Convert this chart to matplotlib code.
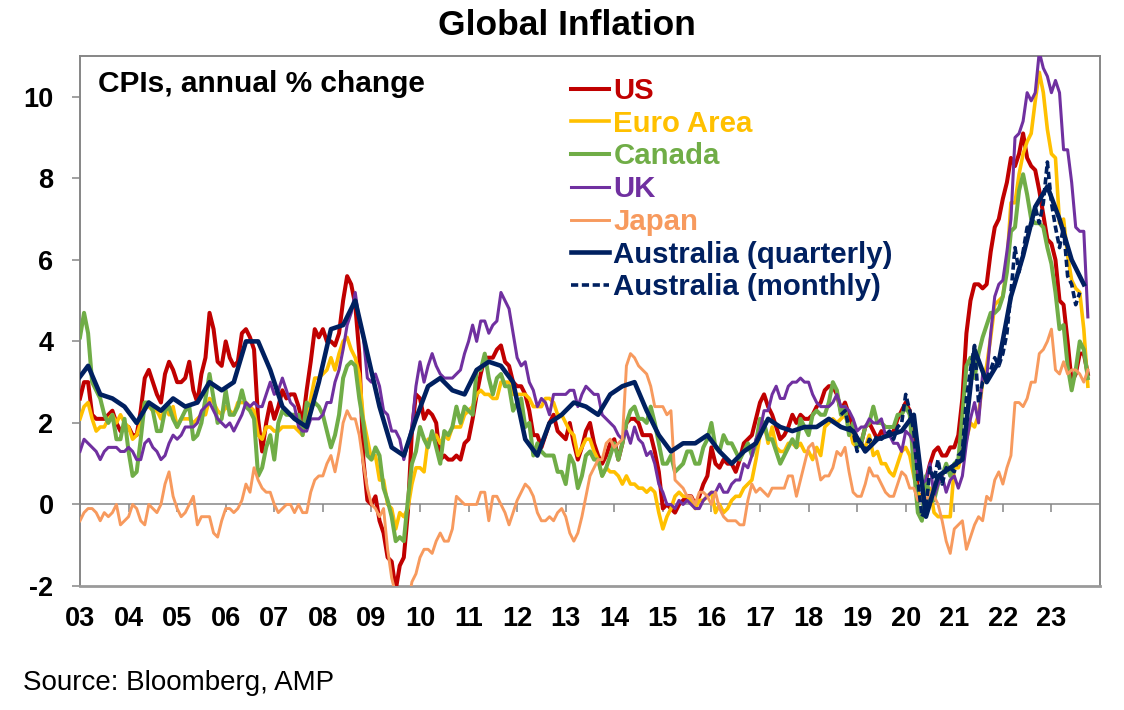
import matplotlib
matplotlib.use("Agg")
import matplotlib.pyplot as plt
import numpy as np

plt.rcParams['font.family'] = ['Liberation Sans', 'DejaVu Sans']
plt.rcParams['axes.unicode_minus'] = False

###############################################################################
#                                   Data                                      #
###############################################################################
# monthly series, annual % change, Jan 2003 .. Oct 2023
us = [
    2.6, 3.0, 3.0, 2.2, 2.1, 2.1, 2.1, 2.2, 2.3, 2.0, 1.8, 1.9,
    1.9, 1.7, 1.7, 2.3, 3.1, 3.3, 3.0, 2.7, 2.5, 3.2, 3.5, 3.3,
    3.0, 3.0, 3.1, 3.5, 2.8, 2.5, 3.2, 3.6, 4.7, 4.3, 3.5, 3.4,
    4.0, 3.6, 3.4, 3.5, 4.2, 4.3, 4.1, 3.8, 2.1, 1.3, 2.0, 2.5,
    2.1, 2.4, 2.8, 2.6, 2.7, 2.7, 2.4, 2.0, 2.8, 3.5, 4.3, 4.1,
    4.3, 4.0, 4.0, 3.9, 4.2, 5.0, 5.6, 5.4, 4.9, 3.7, 1.1, 0.1,
    0.0, 0.2, -0.4, -0.7, -1.3, -1.4, -2.1, -1.5, -1.3, -0.2, 1.8, 2.7,
    2.6, 2.1, 2.3, 2.2, 2.0, 1.1, 1.2, 1.1, 1.1, 1.2, 1.1, 1.5,
    1.6, 2.1, 2.7, 3.2, 3.6, 3.6, 3.6, 3.8, 3.9, 3.5, 3.4, 3.0,
    2.9, 2.9, 2.7, 2.3, 1.7, 1.7, 1.4, 1.7, 2.0, 2.2, 1.8, 1.7,
    1.6, 2.0, 1.5, 1.1, 1.4, 1.8, 2.0, 1.5, 1.2, 1.0, 1.2, 1.5,
    1.6, 1.1, 1.5, 2.0, 2.1, 2.1, 2.0, 1.7, 1.7, 1.7, 1.3, 0.8,
    -0.1, 0.0, -0.1, -0.2, 0.0, 0.1, 0.2, 0.2, 0.0, 0.2, 0.5, 0.7,
    1.4, 1.0, 0.9, 1.1, 1.0, 1.0, 0.8, 1.1, 1.5, 1.6, 1.7, 2.1,
    2.5, 2.7, 2.4, 2.2, 1.9, 1.6, 1.7, 1.9, 2.2, 2.0, 2.2, 2.1,
    2.1, 2.2, 2.4, 2.5, 2.8, 2.9, 2.9, 2.7, 2.3, 2.5, 2.2, 1.9,
    1.6, 1.5, 1.9, 2.0, 1.8, 1.6, 1.8, 1.7, 1.7, 1.8, 2.1, 2.3,
    2.5, 2.3, 1.5, 0.3, 0.1, 0.6, 1.0, 1.3, 1.4, 1.2, 1.2, 1.4,
    1.4, 1.7, 2.6, 4.2, 5.0, 5.4, 5.4, 5.3, 5.4, 6.2, 6.8, 7.0,
    7.5, 7.9, 8.5, 8.3, 8.6, 9.1, 8.5, 8.3, 8.2, 7.7, 7.1, 6.5,
    6.4, 6.0, 5.0, 4.9, 4.0, 3.0, 3.2, 3.7, 3.7, 3.2,
]

euro = [
    2.1, 2.4, 2.5, 2.1, 1.8, 1.9, 1.9, 2.1, 2.2, 2.0, 2.2, 2.0,
    1.9, 1.6, 1.7, 2.0, 2.5, 2.4, 2.3, 2.3, 2.1, 2.4, 2.2, 2.4,
    1.9, 2.1, 2.1, 2.1, 2.0, 2.1, 2.2, 2.2, 2.6, 2.5, 2.3, 2.2,
    2.4, 2.3, 2.2, 2.5, 2.5, 2.5, 2.4, 2.3, 1.7, 1.6, 1.9, 1.9,
    1.8, 1.8, 1.9, 1.9, 1.9, 1.9, 1.8, 1.7, 2.1, 2.6, 3.1, 3.1,
    3.2, 3.3, 3.6, 3.3, 3.7, 4.0, 4.1, 3.8, 3.6, 3.2, 2.1, 1.6,
    1.1, 1.2, 0.6, 0.6, 0.0, -0.1, -0.6, -0.2, -0.3, -0.1, 0.5, 0.9,
    0.9, 0.8, 1.6, 1.6, 1.7, 1.5, 1.7, 1.6, 1.9, 1.9, 1.9, 2.2,
    2.3, 2.4, 2.7, 2.8, 2.7, 2.7, 2.6, 2.6, 3.0, 3.0, 3.0, 2.7,
    2.7, 2.7, 2.7, 2.6, 2.4, 2.4, 2.4, 2.6, 2.6, 2.5, 2.2, 2.2,
    2.0, 1.8, 1.7, 1.2, 1.4, 1.6, 1.6, 1.3, 1.1, 0.7, 0.9, 0.8,
    0.8, 0.7, 0.5, 0.7, 0.5, 0.5, 0.4, 0.4, 0.3, 0.4, 0.3, -0.2,
    -0.6, -0.3, -0.1, 0.2, 0.3, 0.2, 0.2, 0.1, -0.1, 0.1, 0.1, 0.2,
    0.3, -0.2, 0.0, -0.2, -0.1, 0.1, 0.2, 0.2, 0.4, 0.5, 0.6, 1.1,
    1.7, 2.0, 1.5, 1.9, 1.4, 1.3, 1.3, 1.5, 1.5, 1.4, 1.5, 1.3,
    1.3, 1.1, 1.4, 1.2, 1.9, 2.0, 2.1, 2.0, 2.1, 2.2, 1.9, 1.5,
    1.4, 1.5, 1.4, 1.7, 1.2, 1.3, 1.0, 1.0, 0.8, 0.7, 1.0, 1.3,
    1.4, 1.2, 0.7, 0.3, 0.1, 0.3, 0.4, -0.2, -0.3, -0.3, -0.3, -0.3,
    0.9, 0.9, 1.3, 1.6, 2.0, 1.9, 2.2, 3.0, 3.4, 4.1, 4.9, 5.0,
    5.1, 5.9, 7.4, 7.4, 8.1, 8.6, 8.9, 9.1, 9.9, 10.6, 10.1, 9.2,
    8.6, 8.5, 6.9, 7.0, 6.1, 5.5, 5.3, 5.2, 4.3, 2.9,
]

canada = [
    4.1, 4.7, 4.2, 3.0, 2.8, 2.6, 2.2, 2.0, 2.2, 1.6, 1.6, 2.1,
    1.3, 0.7, 0.8, 1.6, 2.5, 2.5, 2.3, 1.8, 1.8, 2.3, 2.4, 2.1,
    1.9, 2.1, 2.3, 2.4, 1.6, 1.7, 2.0, 2.6, 3.2, 2.6, 2.0, 2.1,
    2.8, 2.2, 2.2, 2.4, 2.8, 2.4, 2.3, 2.1, 0.7, 0.9, 1.4, 1.7,
    1.1, 2.0, 2.3, 2.2, 2.2, 2.2, 2.2, 1.7, 2.5, 2.4, 2.5, 2.4,
    2.2, 1.8, 1.4, 1.7, 2.2, 3.1, 3.4, 3.5, 3.4, 2.6, 2.0, 1.2,
    1.1, 1.4, 1.2, 0.4, 0.1, -0.3, -0.9, -0.8, -0.9, 0.1, 1.0, 1.3,
    1.9, 1.6, 1.4, 1.8, 1.4, 1.0, 1.8, 1.7, 1.9, 2.4, 2.0, 2.4,
    2.3, 2.2, 3.3, 3.3, 3.7, 3.1, 2.7, 3.1, 3.2, 2.9, 2.9, 2.3,
    2.5, 2.6, 1.9, 2.0, 1.2, 1.5, 1.3, 1.2, 1.2, 1.2, 0.8, 0.8,
    0.5, 1.2, 1.0, 0.4, 0.7, 1.2, 1.3, 1.1, 1.1, 0.7, 0.9, 1.2,
    1.5, 1.1, 1.5, 2.0, 2.3, 2.4, 2.1, 2.1, 2.0, 2.4, 2.0, 1.5,
    1.0, 1.0, 1.2, 0.8, 0.9, 1.0, 1.3, 1.3, 1.0, 1.0, 1.4, 1.6,
    2.0, 1.4, 1.3, 1.7, 1.5, 1.5, 1.3, 1.1, 1.3, 1.5, 1.2, 1.5,
    2.1, 2.0, 1.6, 1.6, 1.3, 1.0, 1.2, 1.4, 1.6, 1.4, 2.1, 1.9,
    1.7, 2.2, 2.3, 2.2, 2.2, 2.5, 3.0, 2.8, 2.2, 2.4, 1.7, 2.0,
    1.4, 1.5, 1.9, 2.0, 2.4, 2.0, 2.0, 1.9, 1.9, 1.9, 2.2, 2.2,
    2.4, 2.2, 0.9, -0.2, -0.4, 0.7, 0.1, 0.1, 0.5, 0.7, 1.0, 0.7,
    1.0, 1.1, 2.2, 3.4, 3.6, 3.1, 3.7, 4.1, 4.4, 4.7, 4.7, 4.8,
    5.1, 5.7, 6.7, 6.8, 7.7, 8.1, 7.6, 7.0, 6.9, 6.9, 6.8, 6.3,
    5.9, 5.2, 4.3, 4.4, 3.4, 2.8, 3.3, 4.0, 3.8, 3.1,
]

uk = [
    1.3, 1.6, 1.5, 1.4, 1.3, 1.1, 1.3, 1.4, 1.4, 1.4, 1.3, 1.3,
    1.4, 1.3, 1.1, 1.1, 1.5, 1.6, 1.4, 1.3, 1.1, 1.2, 1.5, 1.7,
    1.6, 1.7, 1.9, 1.9, 1.9, 2.0, 2.3, 2.4, 2.5, 2.3, 2.1, 2.0,
    1.9, 2.0, 1.8, 2.0, 2.2, 2.5, 2.4, 2.5, 2.4, 2.4, 2.7, 3.0,
    2.7, 2.8, 3.1, 2.8, 2.5, 2.4, 1.9, 1.8, 1.8, 2.1, 2.1, 2.1,
    2.2, 2.5, 2.5, 3.0, 3.3, 3.8, 4.4, 4.7, 5.2, 4.5, 4.1, 3.1,
    3.0, 3.2, 2.9, 2.3, 2.2, 1.8, 1.8, 1.6, 1.1, 1.5, 1.9, 2.9,
    3.5, 3.0, 3.4, 3.7, 3.4, 3.2, 3.1, 3.1, 3.1, 3.2, 3.3, 3.7,
    4.0, 4.4, 4.0, 4.5, 4.5, 4.2, 4.4, 4.5, 5.2, 5.0, 4.8, 4.2,
    3.6, 3.4, 3.5, 3.0, 2.8, 2.4, 2.6, 2.5, 2.2, 2.7, 2.7, 2.7,
    2.7, 2.8, 2.8, 2.4, 2.7, 2.9, 2.8, 2.7, 2.7, 2.2, 2.1, 2.0,
    1.9, 1.7, 1.6, 1.8, 1.5, 1.9, 1.6, 1.5, 1.2, 1.3, 1.0, 0.5,
    0.3, 0.0, 0.0, -0.1, 0.1, 0.0, 0.1, 0.0, -0.1, -0.1, 0.1, 0.2,
    0.3, 0.3, 0.5, 0.3, 0.3, 0.5, 0.6, 0.6, 1.0, 0.9, 1.2, 1.6,
    1.8, 2.3, 2.3, 2.7, 2.9, 2.6, 2.6, 2.9, 3.0, 3.0, 3.1, 3.0,
    3.0, 2.7, 2.5, 2.4, 2.4, 2.4, 2.5, 2.7, 2.4, 2.4, 2.3, 2.1,
    1.8, 1.9, 1.9, 2.1, 2.0, 2.0, 2.1, 1.7, 1.7, 1.5, 1.5, 1.3,
    1.8, 1.7, 1.5, 0.8, 0.5, 0.6, 1.0, 0.2, 0.5, 0.7, 0.3, 0.6,
    0.7, 0.4, 0.7, 1.5, 2.1, 2.5, 2.0, 3.2, 3.1, 4.2, 5.1, 5.4,
    5.5, 6.2, 7.0, 9.0, 9.1, 9.4, 10.1, 9.9, 10.1, 11.1, 10.7, 10.5,
    10.1, 10.4, 10.1, 8.7, 8.7, 7.9, 6.8, 6.7, 6.7, 4.6,
]

japan = [
    -0.4, -0.2, -0.1, -0.1, -0.2, -0.4, -0.2, -0.3, -0.2, 0.0, -0.5, -0.4,
    -0.3, 0.0, -0.1, -0.4, -0.5, 0.0, -0.1, -0.2, 0.0, 0.5, 0.8, 0.2,
    -0.1, -0.3, -0.2, 0.0, 0.2, -0.5, -0.3, -0.3, -0.3, -0.7, -0.8, -0.4,
    -0.1, -0.1, -0.2, -0.1, 0.1, 0.5, 0.3, 0.9, 0.6, 0.4, 0.3, 0.3,
    0.0, -0.2, -0.1, 0.0, 0.0, -0.2, 0.0, -0.2, -0.2, 0.3, 0.6, 0.7,
    0.7, 1.0, 1.2, 0.8, 1.3, 2.0, 2.3, 2.1, 2.1, 1.7, 1.0, 0.4,
    0.0, -0.1, -0.3, -0.1, -1.1, -1.8, -2.2, -2.2, -2.2, -2.5, -1.9, -1.7,
    -1.3, -1.1, -1.1, -1.2, -0.9, -0.7, -0.9, -0.9, -0.6, 0.2, 0.1, 0.0,
    0.0, 0.0, 0.0, 0.3, 0.3, -0.4, 0.2, 0.2, 0.0, -0.2, -0.5, -0.2,
    0.1, 0.3, 0.5, 0.4, 0.2, -0.2, -0.4, -0.4, -0.3, -0.4, -0.2, -0.1,
    -0.3, -0.7, -0.9, -0.7, -0.3, 0.2, 0.7, 0.9, 1.1, 1.1, 1.5, 1.6,
    1.4, 1.5, 1.6, 3.4, 3.7, 3.6, 3.4, 3.3, 3.2, 2.9, 2.4, 2.4,
    2.4, 2.2, 2.3, 0.6, 0.5, 0.4, 0.2, 0.2, 0.0, 0.3, 0.3, 0.2,
    0.0, 0.3, -0.1, -0.3, -0.4, -0.4, -0.4, -0.5, -0.5, 0.1, 0.5, 0.3,
    0.4, 0.3, 0.2, 0.4, 0.4, 0.4, 0.4, 0.7, 0.7, 0.2, 0.6, 1.0,
    1.4, 1.5, 1.1, 0.6, 0.7, 0.7, 0.9, 1.3, 1.2, 1.4, 0.8, 0.3,
    0.2, 0.2, 0.5, 0.9, 0.7, 0.7, 0.5, 0.3, 0.2, 0.2, 0.5, 0.8,
    0.7, 0.4, 0.4, 0.1, 0.1, 0.1, 0.3, 0.2, 0.0, -0.4, -0.9, -1.2,
    -0.6, -0.5, -0.4, -1.1, -0.8, -0.5, -0.3, -0.4, 0.2, 0.1, 0.6, 0.8,
    0.5, 0.9, 1.2, 2.5, 2.5, 2.4, 2.6, 3.0, 3.0, 3.7, 3.8, 4.0,
    4.3, 3.3, 3.2, 3.5, 3.2, 3.3, 3.3, 3.2, 3.0, 3.3,
]

# Australia quarterly CPI, Dec quarter 2002 .. Sep quarter 2023
aus_q = [
    3.0,
    3.4, 2.7, 2.6, 2.4,
    2.0, 2.5, 2.3, 2.6,
    2.4, 2.5, 3.0, 2.8,
    3.0, 4.0, 4.0, 3.3,
    2.4, 2.1, 1.9, 3.0,
    4.3, 4.4, 5.0, 3.7,
    2.4, 1.4, 1.2, 2.1,
    2.9, 3.1, 2.8, 2.7,
    3.3, 3.5, 3.4, 3.0,
    1.6, 1.2, 2.0, 2.2,
    2.5, 2.4, 2.2, 2.7,
    2.9, 3.0, 2.3, 1.7,
    1.3, 1.5, 1.5, 1.7,
    1.3, 1.0, 1.3, 1.5,
    2.1, 1.9, 1.8, 1.9,
    1.9, 2.1, 1.9, 1.8,
    1.3, 1.6, 1.7, 1.8,
    2.2, -0.3, 0.7, 0.9,
    1.1, 3.8, 3.0, 3.5,
    5.1, 6.1, 7.3, 7.8,
    7.0, 6.0, 5.4,
]

# Australia monthly CPI indicator, Sep 2018 .. Aug 2023
aus_m = [
    2.2, 2.3, 1.9, 1.8,
    1.3, 1.5, 1.3, 1.6, 1.5, 1.7, 1.6, 1.7, 1.8, 1.6, 1.9, 2.0,
    2.7, 2.3, 1.8, 0.6, -0.3, -0.1, 0.9, 0.6, 1.1, 0.5, 0.9, 0.9,
    0.8, 1.2, 1.3, 2.6, 3.3, 3.9, 2.5, 3.0, 3.1, 3.3, 3.6, 3.4,
    3.7, 4.2, 5.2, 6.3, 5.7, 6.2, 6.8, 6.8, 7.3, 6.9, 7.4, 8.4,
    7.4, 6.8, 6.3, 6.8, 5.6, 5.4, 4.9, 5.2,
]

year_labels = ['03', '04', '05', '06', '07', '08', '09', '10', '11', '12', '13',
               '14', '15', '16', '17', '18', '19', '20', '21', '22', '23']
y_ticks = [-2, 0, 2, 4, 6, 8, 10]


def month_axis(year, month, n, step=1):
    """fractional-year positions for n observations starting at year/month"""
    return year + (month - 1 + step * np.arange(n)) / 12.0


###############################################################################
#                                  Plot                                       #
###############################################################################
fig = plt.figure(figsize=(11.24, 7.10), dpi=100)
ax = fig.add_axes([80 / 1124, 1 - 586 / 710, 1020 / 1124, 530 / 710])

GRAY = '#868686'
series = [
    (us, 'US', '#C00000', 2.9),
    (euro, 'Euro Area', '#FFC000', 2.6),
    (canada, 'Canada', '#70AD47', 2.9),
    (uk, 'UK', '#7030A0', 2.2),
    (japan, 'Japan', '#F79A5E', 2.1),
]

ax.axhline(0, color=GRAY, lw=1.1, zorder=1)

for vals, name, col, lw in series:
    ax.plot(month_axis(2003, 1, len(vals)), vals, color=col, lw=lw,
            label=name, zorder=3)

ax.plot(month_axis(2002, 12, len(aus_q), step=3), aus_q, color='#002060',
        lw=3.3, label='Australia (quarterly)', zorder=4)
ax.plot(month_axis(2018, 9, len(aus_m)), aus_m, color='#002060', lw=2.6,
        dashes=(2.0, 1.0), label='Australia (monthly)', zorder=5)

ax.set_xlim(2003, 2024)
ax.set_ylim(-2, 11)

years = 2003 + np.arange(len(year_labels))
ax.set_xticks(years)
ax.set_xticklabels(year_labels)
ax.tick_params(axis='x', length=0, pad=14.5, labelsize=19.5)
ax.set_yticks(y_ticks)
ax.set_yticklabels([str(v) for v in y_ticks])
ax.tick_params(axis='y', length=6, width=1.1, color=GRAY, pad=13,
               labelsize=19.5)
for lab in ax.get_xticklabels() + ax.get_yticklabels():
    lab.set_fontweight('bold')

for side in ['left', 'right', 'top']:
    ax.spines[side].set_color(GRAY)
    ax.spines[side].set_linewidth(1.4)
ax.spines['bottom'].set_color('#9a9a9a')
ax.spines['bottom'].set_linewidth(2.0)

# small tick marks hanging below the zero line
zero_pos = (0 - (-2)) / (11 - (-2))
zax = ax.secondary_xaxis(zero_pos)
zax.set_xticks(years[1:])
zax.tick_params(axis='x', length=6, width=1.1, color=GRAY, direction='out',
                labelbottom=False, labeltop=False)
zax.spines['bottom'].set_visible(False)
zax.spines['top'].set_visible(False)

leg = ax.legend(loc='upper left', bbox_to_anchor=(571 / 1124, 1 - 77 / 710),
                bbox_transform=fig.transFigure, frameon=False,
                labelcolor='linecolor', handlelength=1.3, handletextpad=0.14,
                labelspacing=0.16, borderpad=0, borderaxespad=0,
                prop={'weight': 'bold', 'size': 21.2})

fig.text(98 / 1124, 1 - 91.7 / 710, 'CPIs, annual % change', fontsize=21.5,
         fontweight='bold', ha='left', va='baseline')
fig.text(567 / 1124, 1 - 35 / 710, 'Global Inflation', fontsize=25.5,
         fontweight='bold', ha='center', va='baseline')
fig.text(23 / 1124, 1 - 690 / 710, 'Source: Bloomberg, AMP', fontsize=20,
         ha='left', va='baseline')

fig.savefig('out.png', dpi=100)
